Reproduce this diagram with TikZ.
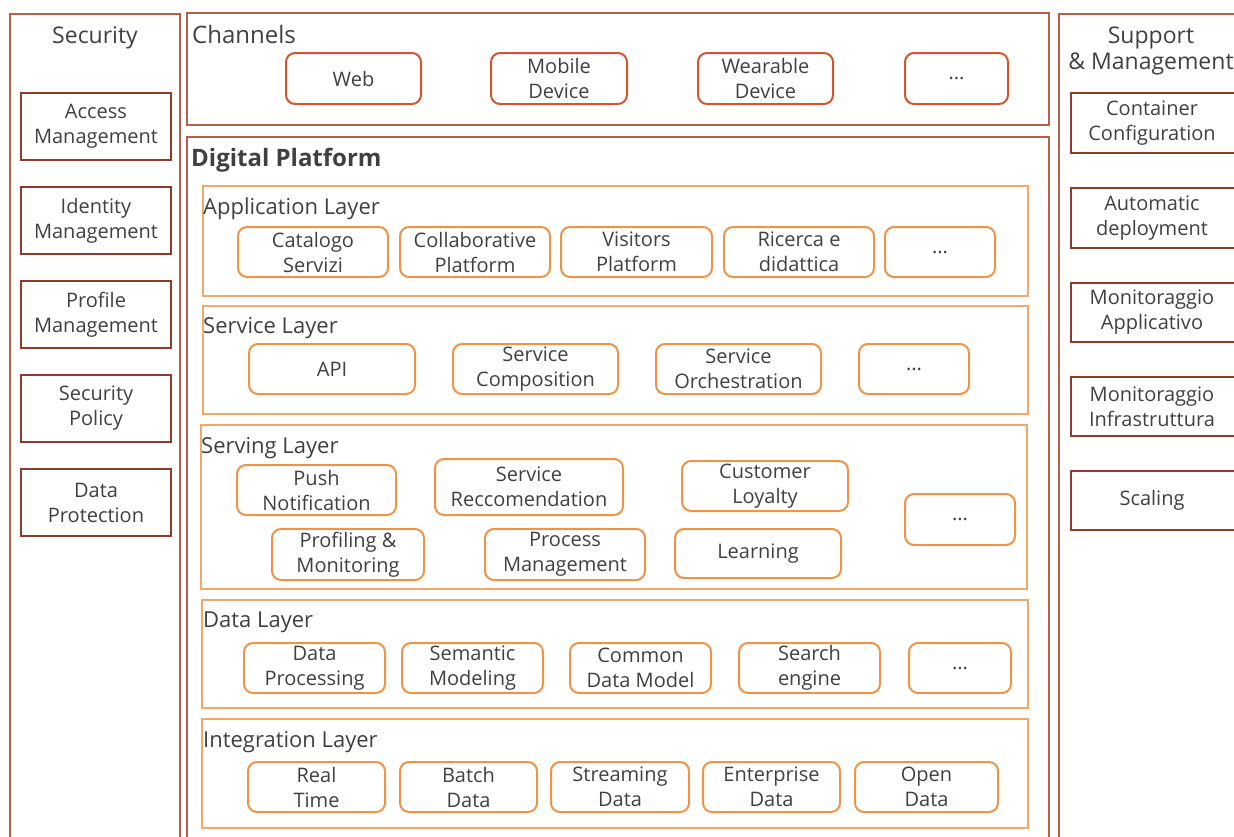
\documentclass[tikz,border=0pt]{standalone}
\usepackage{fontspec}
\setmainfont{Open Sans}
\definecolor{txtgray}{HTML}{404040}
\definecolor{panelred}{HTML}{B8604C}
\definecolor{secred}{HTML}{8E3B2C}
\definecolor{chanred}{HTML}{D2552F}
\definecolor{layerorange}{HTML}{F2A868}
\definecolor{boxorange}{HTML}{EE9448}
\tikzset{
  panel/.style={draw=panelred, line width=1.3pt},
  layer/.style={draw=layerorange, line width=1.5pt},
  secbox/.style={draw=secred, line width=2pt, align=center, inner sep=0pt, font=\fontsize{20}{25}\selectfont},
  chanbox/.style={draw=chanred, line width=2pt, rounded corners=9pt, align=center, inner sep=0pt, font=\fontsize{20}{25}\selectfont},
  compbox/.style={draw=boxorange, line width=2pt, rounded corners=9pt, align=center, inner sep=0pt, font=\fontsize{20}{25}\selectfont},
  ptitle/.style={inner sep=0pt, font=\fontsize{23}{26}\selectfont},
  ltitle/.style={inner sep=0pt, anchor=base west, font=\fontsize{22}{27}\selectfont}
}
\begin{document}
\begin{tikzpicture}[x=1pt,y=-1pt,text=txtgray]
\clip (0,0) rectangle (1234,836);

% outer panels
\draw[panel] (10,14) rectangle (180,850);
\draw[panel] (187,13) rectangle (1049,125);
\draw[panel] (187,137) rectangle (1049,850);
\draw[panel] (1059,14) rectangle (1260,850);

\node[ptitle, anchor=base] (sectitle) at (95,43) {Security};
\node[ptitle, anchor=base west, font=\fontsize{24}{29}\selectfont] (chantitle) at (192,43) {Channels};
\node[ptitle, anchor=base west, font=\fontsize{24}{29}\selectfont\bfseries] (dptitle) at (191,166) {Digital Platform};
\node[ptitle, anchor=base] (suptitle) at (1151,43) {Support};
\node[ptitle, anchor=base] (suptitle2) at (1151,69) {\& Management};

% security
\node[secbox, minimum width=150pt, minimum height=67pt] (access) at (96,126.5) {Access\\Management};
\node[secbox, minimum width=150pt, minimum height=67pt] (identity) at (96,220.5) {Identity\\Management};
\node[secbox, minimum width=150pt, minimum height=67pt] (profile) at (96,314.5) {Profile\\Management};
\node[secbox, minimum width=150pt, minimum height=67pt] (policy) at (96,408.5) {Security\\Policy};
\node[secbox, minimum width=150pt, minimum height=67pt] (protection) at (96,502.5) {Data\\Protection};

% channels
\node[chanbox, minimum width=135pt, minimum height=51pt] (web) at (353.5,78.5) {Web};
\node[chanbox, minimum width=136pt, minimum height=51pt] (mobile) at (559,78.5) {Mobile\\Device};
\node[chanbox, minimum width=135pt, minimum height=51pt] (wearable) at (765.5,78.5) {Wearable\\Device};
\node[chanbox, minimum width=103pt, minimum height=51pt] (chanmore) at (956.5,78.5) {...};

% application layer
\draw[layer] (203,186) rectangle (1028,296);
\node[ltitle] (apptitle) at (203,214) {Application Layer};
\node[compbox, minimum width=150pt, minimum height=50pt] (catalogo) at (313,252) {Catalogo\\Servizi};
\node[compbox, minimum width=150pt, minimum height=50pt] (collab) at (475,252) {Collaborative\\Platform};
\node[compbox, minimum width=151pt, minimum height=50pt] (visitors) at (636.5,252) {Visitors\\Platform};
\node[compbox, minimum width=150pt, minimum height=50pt] (ricerca) at (799,252) {Ricerca e\\didattica};
\node[compbox, minimum width=110pt, minimum height=50pt] (appmore) at (940,252) {...};

% service layer
\draw[layer] (203,306) rectangle (1028,414);
\node[ltitle] (sertitle) at (203,333) {Service Layer};
\node[compbox, minimum width=166pt, minimum height=50pt] (api) at (332,369) {API};
\node[compbox, minimum width=165pt, minimum height=50pt] (composition) at (535.5,369) {Service\\Composition};
\node[compbox, minimum width=165pt, minimum height=50pt] (orchestration) at (738.5,369) {Service\\Orchestration};
\node[compbox, minimum width=110pt, minimum height=50pt] (sermore) at (914,369) {...};

% serving layer
\draw[layer] (201,425) rectangle (1027,589);
\node[ltitle] (servtitle) at (201,453) {Serving Layer};
\node[compbox, minimum width=159pt, minimum height=50pt] (push) at (316.5,490) {Push\\Notification};
\node[compbox, minimum width=188pt, minimum height=56pt] (reccom) at (529,487) {Service\\Reccomendation};
\node[compbox, minimum width=166pt, minimum height=50pt] (loyalty) at (765,486) {Customer\\Loyalty};
\node[compbox, minimum width=110pt, minimum height=51pt] (servmore) at (960,519.5) {...};
\node[compbox, minimum width=152pt, minimum height=51pt] (profiling) at (348,554.5) {Profiling \&\\Monitoring};
\node[compbox, minimum width=160pt, minimum height=51pt] (process) at (565,554.5) {Process\\Management};
\node[compbox, minimum width=166pt, minimum height=49pt] (learning) at (758,553.5) {Learning};

% data layer
\draw[layer] (202,600) rectangle (1028,708);
\node[ltitle] (datatitle) at (203,627) {Data Layer};
\node[compbox, minimum width=141pt, minimum height=50pt] (dataproc) at (314.5,668) {Data\\Processing};
\node[compbox, minimum width=141pt, minimum height=50pt] (semantic) at (472.5,668) {Semantic\\Modeling};
\node[compbox, minimum width=141pt, minimum height=50pt] (cdm) at (640.5,668) {Common\\Data Model};
\node[compbox, minimum width=141pt, minimum height=50pt] (search) at (809.5,668) {Search\\engine};
\node[compbox, minimum width=102pt, minimum height=50pt] (datamore) at (960,668) {...};

% integration layer
\draw[layer] (202,719) rectangle (1028,828);
\node[ltitle] (inttitle) at (203,747) {Integration Layer};
\node[compbox, minimum width=137pt, minimum height=50pt] (realtime) at (316.5,787) {Real\\Time};
\node[compbox, minimum width=137pt, minimum height=50pt] (batch) at (468.5,787) {Batch\\Data};
\node[compbox, minimum width=138pt, minimum height=50pt] (streaming) at (620,787) {Streaming\\Data};
\node[compbox, minimum width=137pt, minimum height=50pt] (enterprise) at (771.5,787) {Enterprise\\Data};
\node[compbox, minimum width=143pt, minimum height=50pt] (open) at (926.5,787) {Open\\Data};

% support & management
\draw[draw=secred, line width=2pt] (1071,93) rectangle (1250,153);
\node[inner sep=0pt, align=center, font=\fontsize{20}{25}\selectfont] (container) at (1152,123) {Container\\Configuration};
\draw[draw=secred, line width=2pt] (1071,188) rectangle (1250,248);
\node[inner sep=0pt, align=center, font=\fontsize{20}{25}\selectfont] (deploy) at (1152,218) {Automatic\\deployment};
\draw[draw=secred, line width=2pt] (1071,283) rectangle (1250,342);
\node[inner sep=0pt, align=center, font=\fontsize{20}{25}\selectfont] (monapp) at (1152,312.5) {Monitoraggio\\Applicativo};
\draw[draw=secred, line width=2pt] (1071,377) rectangle (1250,436);
\node[inner sep=0pt, align=center, font=\fontsize{20}{25}\selectfont] (moninfra) at (1152,406.5) {Monitoraggio\\Infrastruttura};
\draw[draw=secred, line width=2pt] (1071,471) rectangle (1250,530);
\node[inner sep=0pt, align=center, font=\fontsize{20}{25}\selectfont] (scaling) at (1152,500.5) {Scaling};
\end{tikzpicture}
\end{document}
